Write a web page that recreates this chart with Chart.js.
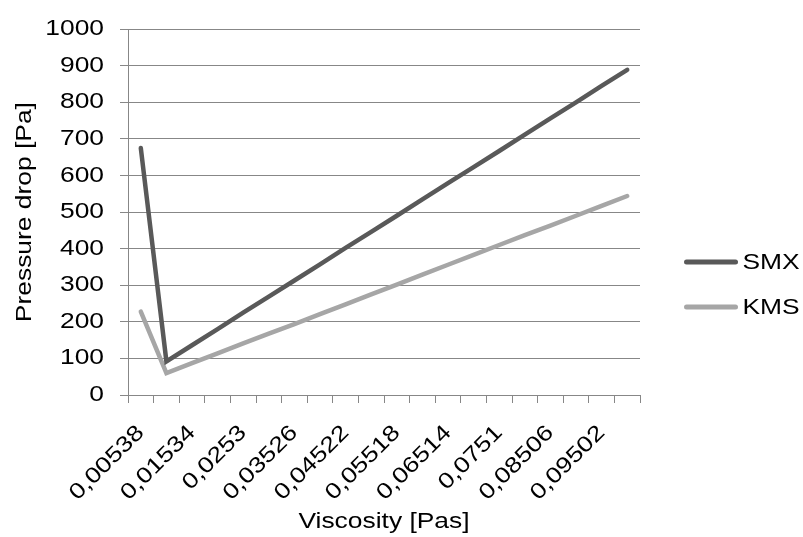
<!DOCTYPE html>
<html>
<head>
<meta charset="utf-8">
<script src="https://cdn.jsdelivr.net/npm/chart.js@4.4.1/dist/chart.umd.min.js"></script>
<style>
  html, body { margin: 0; padding: 0; background: #ffffff; }
  #wrap { width: 803px; height: 537px; }
</style>
</head>
<body>
<div id="wrap"><canvas id="chart" width="803" height="537"></canvas></div>
<script>
// Viscosity steps [Pas] along the category axis
const viscosity = [
  '0,00538', '0,01036', '0,01534', '0,02032', '0,0253',
  '0,03028', '0,03526', '0,04024', '0,04522', '0,0502',
  '0,05518', '0,06016', '0,06514', '0,07012', '0,0751',
  '0,08008', '0,08506', '0,09004', '0,09502', '0,1'
];

// Pressure drop [Pa] per mixer type
const smx = [675, 92, 136, 180, 225, 269, 313, 357, 402, 446,
             490, 535, 579, 623, 667, 712, 756, 800, 845, 889];
const kms = [228, 60, 87, 114, 141, 168, 194, 221, 248, 275,
             302, 329, 356, 383, 410, 437, 463, 490, 517, 544];

const seriesNames = ['SMX', 'KMS'];
const seriesColors = ['#595959', '#a6a6a6'];

const yTicks = [0, 100, 200, 300, 400, 500, 600, 700, 800, 900, 1000];

const FONT_FAMILY = '"Liberation Sans", Arial, Helvetica, sans-serif';
const FONT_SIZE = 22;
const TEXT_STRETCH = 1.2;   // wide lettering: glyphs drawn 20% wider along the text direction
const GRID = '#878787';

const canvas = document.getElementById('chart');
const context = canvas.getContext('2d');

// wide text on this canvas: scale each string along its baseline around its anchor,
// and report the widened width so the layout accounts for it
const plainFill = context.fillText.bind(context);
const plainMeasure = context.measureText.bind(context);
context.fillText = function (text, x, y, maxWidth) {
  this.save();
  this.translate(x, y);
  this.scale(TEXT_STRETCH, 1);
  if (maxWidth === undefined) {
    plainFill(text, 0, 0);
  } else {
    plainFill(text, 0, 0, maxWidth / TEXT_STRETCH);
  }
  this.restore();
};
context.measureText = function (text) {
  const m = plainMeasure(text);
  return {
    width: m.width * TEXT_STRETCH,
    actualBoundingBoxLeft: m.actualBoundingBoxLeft * TEXT_STRETCH,
    actualBoundingBoxRight: m.actualBoundingBoxRight * TEXT_STRETCH,
    actualBoundingBoxAscent: m.actualBoundingBoxAscent,
    actualBoundingBoxDescent: m.actualBoundingBoxDescent,
    fontBoundingBoxAscent: m.fontBoundingBoxAscent,
    fontBoundingBoxDescent: m.fontBoundingBoxDescent
  };
};

// legend with a line sample and the series name on the right side
const lineLegend = {
  id: 'lineLegend',
  afterDraw(chart) {
    const { ctx, chartArea } = chart;
    ctx.save();
    chart.data.datasets.forEach((ds, i) => {
      const y = chartArea.bottom - 133 + i * 45;
      const x0 = chartArea.right + 46.5;
      ctx.strokeStyle = ds.borderColor;
      ctx.lineWidth = 5;
      ctx.lineCap = 'round';
      ctx.beginPath();
      ctx.moveTo(x0, y);
      ctx.lineTo(x0 + 49, y);
      ctx.stroke();
      ctx.fillStyle = '#000000';
      ctx.font = FONT_SIZE + 'px ' + FONT_FAMILY;
      ctx.textBaseline = 'middle';
      ctx.textAlign = 'left';
      ctx.fillText(ds.label, x0 + 56, y + 1);
    });
    ctx.restore();
  }
};

const font = { family: FONT_FAMILY, size: FONT_SIZE };

new Chart(canvas, {
  type: 'line',
  data: {
    labels: viscosity,
    datasets: [
      {
        label: seriesNames[0],
        data: smx,
        borderColor: seriesColors[0],
        backgroundColor: seriesColors[0],
        borderWidth: 4.5,
        borderCapStyle: 'round',
        pointRadius: 0,
        tension: 0
      },
      {
        label: seriesNames[1],
        data: kms,
        borderColor: seriesColors[1],
        backgroundColor: seriesColors[1],
        borderWidth: 4.5,
        borderCapStyle: 'round',
        pointRadius: 0,
        tension: 0
      }
    ]
  },
  options: {
    responsive: false,
    animation: false,
    devicePixelRatio: 1,
    layout: { padding: { left: 0, right: 163, top: 26, bottom: 0 } },
    plugins: {
      legend: { display: false },
      tooltip: { enabled: false }
    },
    scales: {
      x: {
        type: 'category',
        offset: true,
        grid: {
          offset: true,
          drawOnChartArea: false,
          drawTicks: true,
          tickLength: 8,
          color: GRID,
          lineWidth: 1
        },
        border: { color: GRID, width: 1 },
        ticks: {
          autoSkip: false,
          minRotation: 45,
          maxRotation: 45,
          padding: 17,
          color: '#000000',
          font,
          callback: (v, i) => (i % 2 === 0 ? viscosity[i] : '')
        },
        title: {
          display: true,
          text: 'Viscosity [Pas]',
          color: '#000000',
          font,
          padding: { top: 0, bottom: 2 }
        },
        afterFit(scale) { scale.height = 142; }
      },
      y: {
        min: yTicks[0],
        max: yTicks[yTicks.length - 1],
        afterBuildTicks(scale) { scale.ticks = yTicks.map(v => ({ value: v })); },
        grid: { color: GRID, lineWidth: 1, tickLength: 8 },
        border: { color: GRID, width: 1 },
        ticks: {
          padding: 16,
          color: '#000000',
          font,
          callback: v => String(v)
        },
        title: {
          display: true,
          text: 'Pressure drop [Pa]',
          color: '#000000',
          font,
          padding: { top: 12, bottom: 0 }
        },
        afterFit(scale) { scale.width = 128; }
      }
    }
  },
  plugins: [lineLegend]
});
</script>
</body>
</html>
